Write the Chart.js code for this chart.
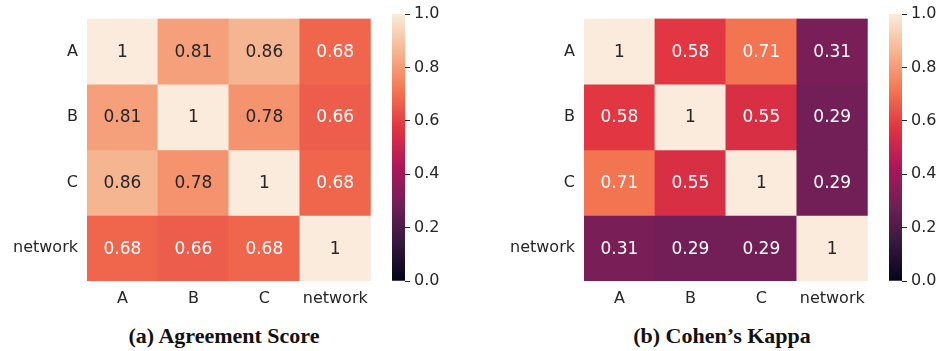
<!DOCTYPE html>
<html>
<head>
<meta charset="utf-8">
<script src="https://cdn.jsdelivr.net/npm/chart.js@4.4.1/dist/chart.umd.min.js"></script>
<style>
  html, body { margin: 0; padding: 0; background: #fff; }
  body { width: 941px; height: 351px; position: relative; overflow: hidden; }
  canvas { position: absolute; top: 0; }
  .caption {
    position: absolute; top: 323px; width: 300px; text-align: center;
    font: bold 22px "Liberation Serif", "DejaVu Serif", serif; color: #111;
    white-space: nowrap;
  }
</style>
</head>
<body>
<canvas id="heatA" width="376" height="320" style="left:0px"></canvas>
<canvas id="barA" width="90" height="320" style="left:380px"></canvas>
<canvas id="heatB" width="376" height="320" style="left:497px"></canvas>
<canvas id="barB" width="90" height="320" style="left:877px"></canvas>
<div class="caption" style="left:74px">(a) Agreement Score</div>
<div class="caption" style="left:572px">(b) Cohen’s Kappa</div>

<script>
// Rater labels shared by rows and columns
const raters = ['A', 'B', 'C', 'network'];

// Pairwise agreement score, one array per row
const agreementRows = [
  [1.00, 0.81, 0.86, 0.68],
  [0.81, 1.00, 0.78, 0.66],
  [0.86, 0.78, 1.00, 0.68],
  [0.68, 0.66, 0.68, 1.00]
];

// Pairwise Cohen's kappa, one array per row
const kappaRows = [
  [1.00, 0.58, 0.71, 0.31],
  [0.58, 1.00, 0.55, 0.29],
  [0.71, 0.55, 1.00, 0.29],
  [0.31, 0.29, 0.29, 1.00]
];

// Colour bar tick values
const colorbarTicks = [0.0, 0.2, 0.4, 0.6, 0.8, 1.0];

// "rocket" style sequential colormap stops (position, rgb)
const rocketStops = [
  [0 / 7, [0x03, 0x05, 0x1a]],
  [1 / 7, [0x35, 0x19, 0x3e]],
  [2 / 7, [0x70, 0x1f, 0x57]],
  [3 / 7, [0xad, 0x17, 0x59]],
  [4 / 7, [0xe1, 0x33, 0x42]],
  [5 / 7, [0xf3, 0x76, 0x51]],
  [6 / 7, [0xf6, 0xb4, 0x8f]],
  [7 / 7, [0xfa, 0xeb, 0xdd]]
];

function rocketRGB(v) {
  v = Math.max(0, Math.min(1, v));
  for (let i = 1; i < rocketStops.length; i++) {
    const [p1, c1] = rocketStops[i];
    const [p0, c0] = rocketStops[i - 1];
    if (v <= p1) {
      const t = (v - p0) / (p1 - p0);
      return c0.map((c, k) => Math.round(c + (c1[k] - c) * t));
    }
  }
  return rocketStops[rocketStops.length - 1][1];
}
const rgbStr = c => `rgb(${c[0]},${c[1]},${c[2]})`;
const rocket = v => rgbStr(rocketRGB(v));

function luminance(c) {
  const lin = c.map(x => {
    x /= 255;
    return x <= 0.03928 ? x / 12.92 : Math.pow((x + 0.055) / 1.055, 2.4);
  });
  return 0.2126 * lin[0] + 0.7152 * lin[1] + 0.0722 * lin[2];
}

const TEXT_DARK = '#262626';
const TICK_FONT = { family: '"DejaVu Sans", sans-serif', size: 16 };

// Writes each cell's value in its centre
const cellLabels = {
  id: 'cellLabels',
  afterDatasetsDraw(chart) {
    const ctx = chart.ctx;
    ctx.save();
    ctx.font = '17px "DejaVu Sans", sans-serif';
    ctx.textAlign = 'center';
    ctx.textBaseline = 'middle';
    chart.data.datasets.forEach((ds, i) => {
      chart.getDatasetMeta(i).data.forEach((bar, j) => {
        const v = ds.values[j];
        const txt = Number.isInteger(v) ? String(v) : v.toFixed(2);
        ctx.fillStyle = luminance(rocketRGB(v)) > 0.408 ? TEXT_DARK : '#ffffff';
        ctx.fillText(txt, bar.x, (bar.y + bar.base) / 2 + 1);
      });
    });
    ctx.restore();
  }
};

function heatmap(id, rows) {
  new Chart(document.getElementById(id), {
    type: 'bar',
    data: {
      labels: raters,
      datasets: rows.map((row, r) => ({
        data: row.map(() => [r, r + 1]),
        values: row,
        backgroundColor: row.map(rocket),
        borderWidth: 0,
        grouped: false,
        barPercentage: 1,
        categoryPercentage: 1
      }))
    },
    options: {
      responsive: false,
      animation: false,
      events: [],
      layout: { padding: { top: 14, right: 2, left: 0, bottom: 0 } },
      plugins: { legend: { display: false }, tooltip: { enabled: false } },
      scales: {
        x: {
          grid: { display: false, drawTicks: false },
          border: { display: false },
          ticks: { color: TEXT_DARK, font: TICK_FONT, padding: 8, maxRotation: 0, autoSkip: false },
          afterFit: s => { s.height = 39; }
        },
        y: {
          type: 'linear',
          min: 0,
          max: raters.length,
          reverse: true,
          grid: { display: false, drawTicks: false },
          border: { display: false },
          ticks: {
            color: TEXT_DARK, font: TICK_FONT, padding: 9,
            callback: (v, i) => raters[i]
          },
          afterBuildTicks: s => { s.ticks = raters.map((_, i) => ({ value: i + 0.5 })); },
          afterFit: s => { s.width = 87; }
        }
      }
    },
    plugins: [cellLabels]
  });
}

function colorbar(id) {
  new Chart(document.getElementById(id), {
    type: 'bar',
    data: {
      labels: ['scale'],
      datasets: [{
        data: [[0, 1]],
        borderWidth: 0,
        barPercentage: 1,
        categoryPercentage: 1,
        backgroundColor: ctx => {
          const chart = ctx.chart;
          if (!chart.chartArea) return null;
          const y = chart.scales.y;
          const g = chart.ctx.createLinearGradient(0, y.getPixelForValue(0), 0, y.getPixelForValue(1));
          rocketStops.forEach(([p, c]) => g.addColorStop(p, rgbStr(c)));
          return g;
        }
      }]
    },
    options: {
      responsive: false,
      animation: false,
      events: [],
      layout: { padding: { top: 14, left: 12, right: 0, bottom: 39 } },
      plugins: { legend: { display: false }, tooltip: { enabled: false } },
      scales: {
        x: { display: false },
        y: {
          position: 'right',
          min: 0,
          max: 1,
          border: { display: false },
          grid: { drawOnChartArea: false, drawTicks: true, tickLength: 5, tickColor: TEXT_DARK, lineWidth: 1 },
          ticks: { color: TEXT_DARK, font: TICK_FONT, padding: 4, callback: v => v.toFixed(1) },
          afterBuildTicks: s => { s.ticks = colorbarTicks.map(v => ({ value: v })); },
          afterFit: s => { s.width = 65; }
        }
      }
    }
  });
}

heatmap('heatA', agreementRows);
colorbar('barA');
heatmap('heatB', kappaRows);
colorbar('barB');
</script>
</body>
</html>
